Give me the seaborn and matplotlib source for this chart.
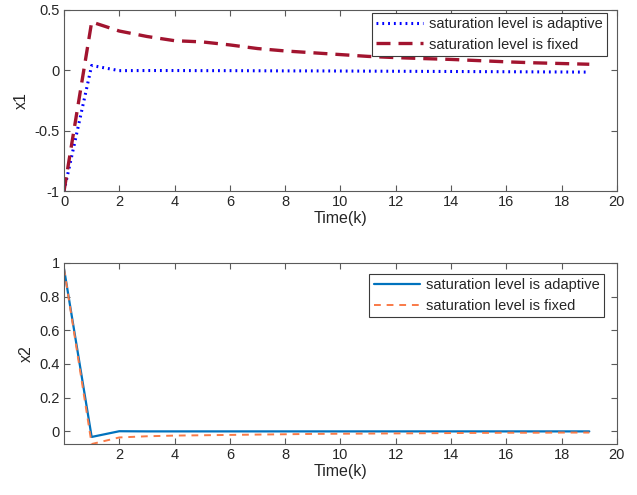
import matplotlib
matplotlib.use("Agg")
import matplotlib.pyplot as plt
import seaborn as sns
import pandas as pd
import numpy as np

sns.set_theme(style="white")
plt.rcParams['font.family'] = ['Liberation Sans', 'DejaVu Sans']

k = list(range(20))
x1_adaptive = [-1.0, 0.04, -0.003, -0.002, -0.002, -0.003, -0.003, -0.004, -0.005, -0.005,
               -0.006, -0.007, -0.008, -0.009, -0.010, -0.011, -0.012, -0.013, -0.014, -0.015]
x1_fixed = [-1.0, 0.40, 0.325, 0.28, 0.245, 0.235, 0.21, 0.18, 0.16, 0.145,
            0.13, 0.115, 0.105, 0.097, 0.09, 0.08, 0.07, 0.062, 0.056, 0.05]
x2_adaptive = [0.965, -0.034, 0.0, -0.001, -0.001, -0.001, -0.001, -0.001, -0.001, -0.001,
               -0.001, -0.001, -0.001, -0.001, -0.001, -0.001, -0.001, -0.001, -0.001, -0.001]
x2_fixed = [0.965, -0.076, -0.037, -0.03, -0.026, -0.024, -0.022, -0.02, -0.018, -0.016,
            -0.015, -0.014, -0.013, -0.012, -0.011, -0.010, -0.009, -0.009, -0.008, -0.008]
labels = ["saturation level is adaptive", "saturation level is fixed"]

fig = plt.figure(figsize=(6.37, 4.95), dpi=100)
ax1 = fig.add_axes([0.1005, 0.614, 0.868, 0.366])
ax2 = fig.add_axes([0.1005, 0.103, 0.868, 0.366])

df1 = pd.DataFrame({"k": k * 2, "x": x1_adaptive + x1_fixed,
                    "s": [labels[0]] * 20 + [labels[1]] * 20})
df2 = pd.DataFrame({"k": k * 2, "x": x2_adaptive + x2_fixed,
                    "s": [labels[0]] * 20 + [labels[1]] * 20})

sns.lineplot(data=df1, x="k", y="x", hue="s", style="s",
             palette={labels[0]: "#0000FF", labels[1]: "#A2142F"},
             dashes={labels[0]: (0.6, 1.3), labels[1]: (4.2, 2.4)},
             ax=ax1, legend=False)
ax1.lines[0].set_linewidth(2.2)
ax1.lines[1].set_linewidth(2.4)

sns.lineplot(data=df2, x="k", y="x", hue="s", style="s",
             palette={labels[0]: "#0072BD", labels[1]: "#F97A47"},
             dashes={labels[0]: "", labels[1]: (3.5, 3.0)},
             ax=ax2, legend=False)
ax2.lines[0].set_linewidth(1.6)
ax2.lines[1].set_linewidth(1.4)

axc = "#5a5a5a"
for ax in (ax1, ax2):
    ax.set_xlim(0, 20)
    ax.tick_params(direction="in", length=4, width=0.8, colors=axc, labelcolor="#262626",
                   labelsize=10.5, top=True, right=True, bottom=True, left=True, pad=3)
    for sp in ax.spines.values():
        sp.set_color(axc)
        sp.set_linewidth(0.8)
    ax.set_xlabel("Time(k)", fontsize=11.5, color="#262626", labelpad=1)
    ax.grid(False)

ax1.set_ylim(-1, 0.5)
ax1.set_xticks([0, 2, 4, 6, 8, 10, 12, 14, 16, 18, 20])
ax1.set_yticks([-1, -0.5, 0, 0.5])
ax1.set_yticklabels(["-1", "-0.5", "0", "0.5"])
ax1.set_ylabel("x1", fontsize=11.5, color="#262626", labelpad=4)

ax2.set_ylim(-0.076, 1)
ax2.set_xticks([2, 4, 6, 8, 10, 12, 14, 16, 18, 20])
ax2.set_yticks([0, 0.2, 0.4, 0.6, 0.8, 1])
ax2.set_yticklabels(["0", "0.2", "0.4", "0.6", "0.8", "1"])
ax2.set_ylabel("x2", fontsize=11.5, color="#262626", labelpad=4)

anchors = [(0.982, 0.985), (0.977, 0.94)]
for ax, anc in zip((ax1, ax2), anchors):
    leg = ax.legend(ax.lines[:2], labels, loc="upper right", fontsize=10.5,
                    handlelength=3.2, handletextpad=0.4, borderpad=0.3,
                    labelspacing=0.45, fancybox=False, framealpha=1,
                    bbox_to_anchor=anc, borderaxespad=0.0)
    leg.get_frame().set_edgecolor("#3a3a3a")
    leg.get_frame().set_linewidth(0.8)
    for t in leg.get_texts():
        t.set_color("#262626")

fig.savefig("out.png", dpi=100, facecolor="white")
